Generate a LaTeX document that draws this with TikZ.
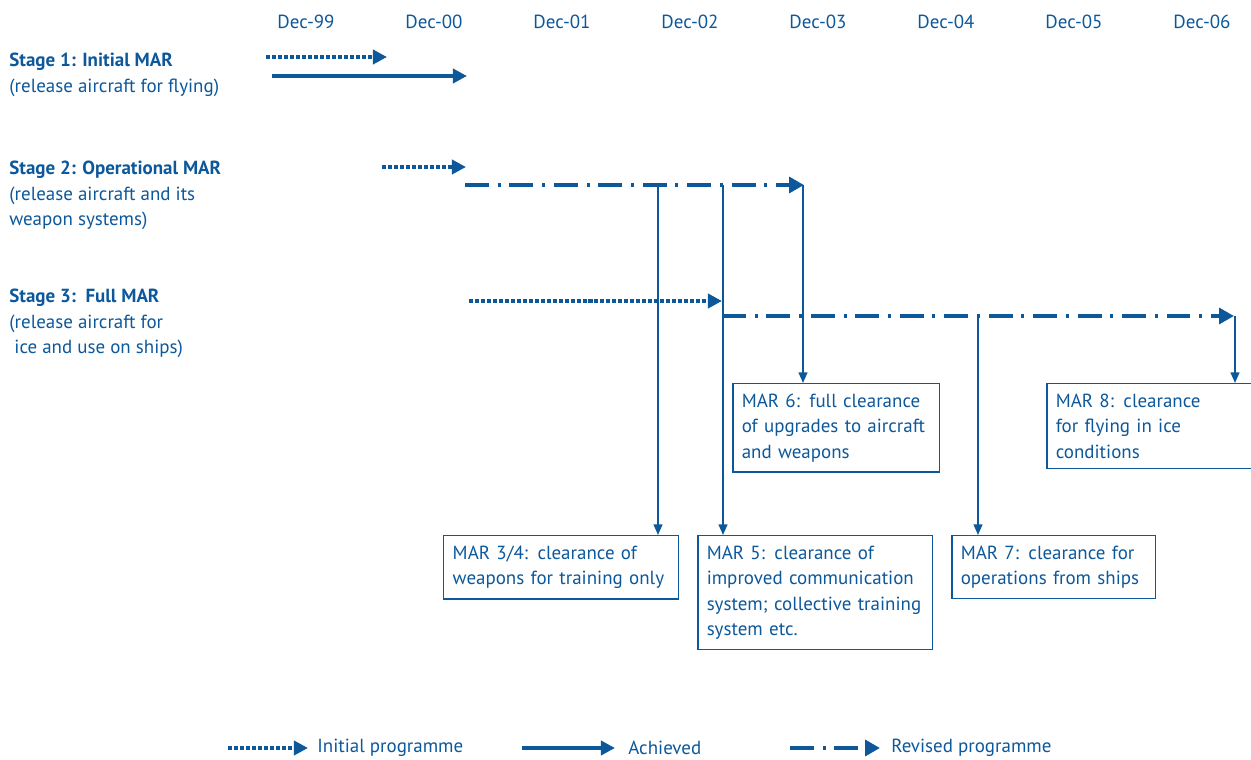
\documentclass[tikz,border=0pt]{standalone}
\usepackage{fontspec}
\setmainfont{PT Sans}
\usetikzlibrary{arrows.meta}

\definecolor{naoblue}{RGB}{12,88,155}

\tikzset{
    initial/.style={naoblue,line width=2pt,dash pattern=on 2.3pt off 1.1pt,-{Triangle[length=8pt,width=8pt]}},
    achieved/.style={naoblue,line width=2.3pt,-{Triangle[length=8pt,width=8pt]}},
    revised/.style={naoblue,line width=2.4pt,dash pattern=on 13.6pt off 5pt on 1.7pt off 5pt,-{Triangle[length=8.5pt,width=9pt]}},
    drop/.style={naoblue,line width=0.85pt,-{Triangle[length=6pt,width=5pt]}},
    txt/.style={naoblue,font=\fontsize{10.8}{14.5}\selectfont,inner sep=0pt},
    stagelabel/.style={txt,align=left,anchor=north west},
    marbox/.style={txt,draw=naoblue,line width=0.85pt,align=left,anchor=north west,inner xsep=0.18cm,inner ysep=0.2cm},
}

\begin{document}
\begin{tikzpicture}[x=0.02cm,y=-0.02cm]

    \useasboundingbox (0,0) rectangle (1251,760);

    %%%%%%%%%%%%%%%%%%%%%%%%%%%%%%%%%%%%%%%%%%%%%%%%%%%%%%

    % time axis
    \foreach \i/\yr in {0/99,1/00,2/01,3/02,4/03,5/04,6/05,7/06}
        \node[txt] (dec\yr) at (306+128*\i,22) {Dec-\yr};

    %%%%%%%%%%%%%%%%%%%%%%%%%%%%%%%%%%%%%%%%%%%%%%%%%%%%%%

    % stage 1
    \node[stagelabel] (st1) at (9,53) {\textbf{Stage 1: Initial MAR}\\(release aircraft for flying)};
    \coordinate (i1a) at (266,57);  \coordinate (i1b) at (387,57);
    \coordinate (a1a) at (272,76);  \coordinate (a1b) at (467,76);
    \draw[initial] (i1a) -- (i1b);
    \draw[achieved] (a1a) -- (a1b);

    %%%%%%%%%%%%%%%%%%%%%%%%%%%%%%%%%%%%%%%%%%%%%%%%%%%%%%

    % stage 2
    \node[stagelabel] (st2) at (9,161) {\textbf{Stage 2: Operational MAR}\\(release aircraft and its\\weapon systems)};
    \coordinate (i2a) at (382,167);  \coordinate (i2b) at (466,167);
    \coordinate (r2a) at (465,185);  \coordinate (r2b) at (804,185);
    \draw[initial] (i2a) -- (i2b);
    \draw[revised] (r2a) -- (r2b);

    %%%%%%%%%%%%%%%%%%%%%%%%%%%%%%%%%%%%%%%%%%%%%%%%%%%%%%

    % stage 3
    \node[stagelabel] (st3) at (9,289) {\textbf{Stage 3:\ \ Full MAR}\\(release aircraft for\\\ ice and use on ships)};
    \coordinate (i3a) at (469,301);  \coordinate (i3b) at (722,301);
    \coordinate (r3a) at (722,316);  \coordinate (r3b) at (1234,316);
    \draw[initial] (i3a) -- (i3b);
    \draw[revised] (r3a) -- (r3b);

    %%%%%%%%%%%%%%%%%%%%%%%%%%%%%%%%%%%%%%%%%%%%%%%%%%%%%%

    % clearances
    \node[marbox,text width=3.78cm] (mar6) at (732,383) {MAR 6: full clearance\\of upgrades to aircraft\\and weapons};
    \node[marbox,text width=3.95cm] (mar8) at (1046,383) {MAR 8: clearance\\for flying in ice\\conditions};
    \node[marbox,text width=4.34cm] (mar34) at (443,535) {MAR 3/4: clearance of\\weapons for training only};
    \node[marbox,text width=4.34cm] (mar5) at (697,535) {MAR 5: clearance of\\improved communication\\system; collective training\\system etc.};
    \node[marbox,text width=3.72cm] (mar7) at (951,535) {MAR 7: clearance for\\operations from ships};

    % drops from the revised lines
    \coordinate (m34) at (658,185);
    \coordinate (m5) at (723,185);
    \coordinate (m6) at (803,185);
    \coordinate (m7) at (978,316);
    \coordinate (m8) at (1235,316);
    \draw[drop] (m34) -- (m34 |- mar34.north);
    \draw[drop] (m5) -- (m5 |- mar5.north);
    \draw[drop] (m6) -- (m6 |- mar6.north);
    \draw[drop] (m7) -- (m7 |- mar7.north);
    \draw[drop] (m8) -- (m8 |- mar8.north);

    %%%%%%%%%%%%%%%%%%%%%%%%%%%%%%%%%%%%%%%%%%%%%%%%%%%%%%

    % legend
    \coordinate (li_a) at (228,748);  \coordinate (li_b) at (308,748);
    \coordinate (la_a) at (522,748);  \coordinate (la_b) at (615,748);
    \coordinate (lr_a) at (790,748);  \coordinate (lr_b) at (880,748);
    \draw[initial] (li_a) -- (li_b);
    \draw[achieved] (la_a) -- (la_b);
    \draw[revised] (lr_a) -- (lr_b);
    \node[txt,anchor=west] (lgi) at (317,748) {Initial programme};
    \node[txt,anchor=west] (lga) at (628,748) {Achieved};
    \node[txt,anchor=west] (lgr) at (891,748) {Revised programme};

\end{tikzpicture}
\end{document}
